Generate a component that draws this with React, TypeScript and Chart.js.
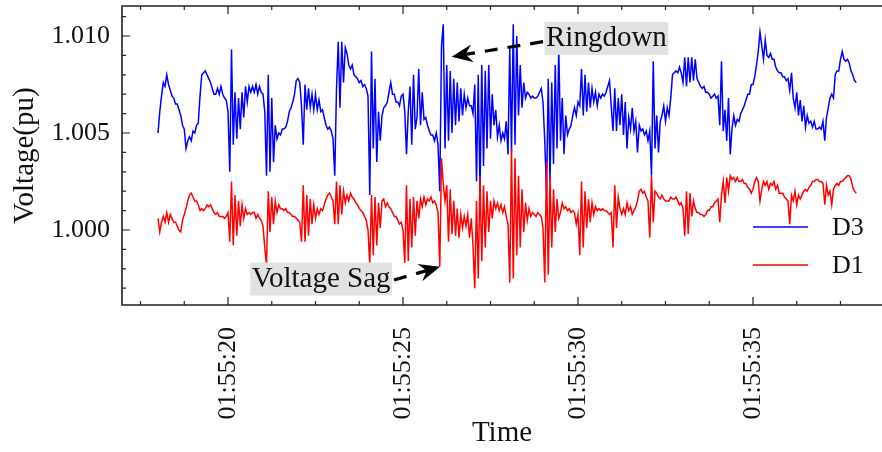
import React, { useEffect, useRef } from 'react';
import { Chart, registerables } from 'chart.js';

Chart.register(...registerables);

// ---------------- data ----------------
const seriesLabels = ['D3', 'D1'];
const seriesColors = ['#0000ff', '#ff0000'];

// sample times (seconds after 01:55:00), 20 samples per second
const startSecond = 18.0;
const sampleStep = 0.05;

const d3Values = [
  1.0050, 1.0061, 1.0069, 1.0076, 1.0074, 1.0080, 1.0075, 1.0072, 1.0069, 1.0068,
  1.0065, 1.0065, 1.0062, 1.0059, 1.0054, 1.0052, 1.0042, 1.0046, 1.0048, 1.0046,
  1.0051, 1.0050, 1.0054, 1.0055, 1.0069, 1.0080, 1.0081, 1.0082, 1.0080, 1.0078,
  1.0076, 1.0073, 1.0070, 1.0070, 1.0073, 1.0070, 1.0074, 1.0070, 1.0068, 1.0067,
  1.0061, 1.0030, 1.0093, 1.0044, 1.0071, 1.0047, 1.0068, 1.0052, 1.0071, 1.0058,
  1.0074, 1.0066, 1.0074, 1.0071, 1.0074, 1.0071, 1.0075, 1.0070, 1.0074, 1.0071,
  1.0070, 1.0061, 1.0028, 1.0080, 1.0030, 1.0068, 1.0035, 1.0054, 1.0047, 1.0050,
  1.0049, 1.0052, 1.0052, 1.0053, 1.0056, 1.0061, 1.0063, 1.0066, 1.0070, 1.0077,
  1.0078, 1.0076, 1.0064, 1.0044, 1.0075, 1.0062, 1.0073, 1.0063, 1.0070, 1.0062,
  1.0070, 1.0062, 1.0067, 1.0061, 1.0062, 1.0058, 1.0054, 1.0052, 1.0053, 1.0051,
  1.0047, 1.0028, 1.0073, 1.0097, 1.0063, 1.0097, 1.0076, 1.0094, 1.0091, 1.0085,
  1.0083, 1.0085, 1.0080, 1.0079, 1.0078, 1.0076, 1.0077, 1.0074, 1.0075, 1.0073,
  1.0069, 1.0018, 1.0092, 1.0042, 1.0078, 1.0035, 1.0061, 1.0046, 1.0059, 1.0063,
  1.0064, 1.0066, 1.0071, 1.0076, 1.0070, 1.0070, 1.0066, 1.0066, 1.0064, 1.0069,
  1.0070, 1.0061, 1.0039, 1.0061, 1.0074, 1.0044, 1.0080, 1.0052, 1.0058, 1.0083,
  1.0054, 1.0071, 1.0057, 1.0058, 1.0054, 1.0051, 1.0049, 1.0049, 1.0046, 1.0050,
  1.0044, 1.0020, 1.0095, 1.0106, 1.0042, 1.0085, 1.0046, 1.0082, 1.0050, 1.0078,
  1.0054, 1.0076, 1.0056, 1.0073, 1.0059, 1.0070, 1.0063, 1.0068, 1.0064, 1.0064,
  1.0060, 1.0075, 1.0025, 1.0080, 1.0018, 1.0085, 1.0033, 1.0082, 1.0042, 1.0085,
  1.0047, 1.0070, 1.0054, 1.0062, 1.0048, 1.0054, 1.0046, 1.0050, 1.0047, 1.0056,
  1.0039, 1.0094, 1.0040, 1.0106, 1.0044, 1.0100, 1.0059, 1.0085, 1.0063, 1.0076,
  1.0068, 1.0071, 1.0070, 1.0068, 1.0069, 1.0068, 1.0068, 1.0069, 1.0071, 1.0073,
  1.0066, 1.0046, 1.0020, 1.0078, 1.0025, 1.0076, 1.0034, 1.0085, 1.0042, 1.0094,
  1.0046, 1.0068, 1.0039, 1.0059, 1.0049, 1.0052, 1.0054, 1.0059, 1.0063, 1.0059,
  1.0066, 1.0064, 1.0083, 1.0059, 1.0080, 1.0061, 1.0076, 1.0063, 1.0073, 1.0066,
  1.0071, 1.0064, 1.0070, 1.0068, 1.0070, 1.0069, 1.0071, 1.0074, 1.0077, 1.0064,
  1.0051, 1.0073, 1.0051, 1.0068, 1.0054, 1.0070, 1.0049, 1.0066, 1.0042, 1.0058,
  1.0052, 1.0063, 1.0051, 1.0056, 1.0040, 1.0054, 1.0051, 1.0052, 1.0049, 1.0051,
  1.0046, 1.0051, 1.0028, 1.0087, 1.0042, 1.0059, 1.0040, 1.0056, 1.0059, 1.0064,
  1.0056, 1.0063, 1.0059, 1.0068, 1.0080, 1.0081, 1.0082, 1.0081, 1.0084, 1.0081,
  1.0076, 1.0089, 1.0074, 1.0089, 1.0076, 1.0089, 1.0077, 1.0088, 1.0078, 1.0076,
  1.0074, 1.0073, 1.0074, 1.0071, 1.0071, 1.0070, 1.0068, 1.0069, 1.0070, 1.0068,
  1.0069, 1.0054, 1.0087, 1.0051, 1.0062, 1.0046, 1.0068, 1.0039, 1.0052, 1.0059,
  1.0054, 1.0057, 1.0056, 1.0060, 1.0062, 1.0064, 1.0067, 1.0070, 1.0070, 1.0075,
  1.0075, 1.0079, 1.0085, 1.0092, 1.0102, 1.0095, 1.0088, 1.0098, 1.0090, 1.0089,
  1.0091, 1.0088, 1.0088, 1.0084, 1.0082, 1.0081, 1.0081, 1.0079, 1.0079, 1.0077,
  1.0078, 1.0072, 1.0081, 1.0068, 1.0063, 1.0071, 1.0059, 1.0067, 1.0056, 1.0064,
  1.0053, 1.0059, 1.0055, 1.0056, 1.0053, 1.0056, 1.0052, 1.0052, 1.0053, 1.0052,
  1.0056, 1.0046, 1.0058, 1.0063, 1.0068, 1.0070, 1.0068, 1.0080, 1.0082, 1.0082,
  1.0088, 1.0092, 1.0088, 1.0087, 1.0088, 1.0086, 1.0082, 1.0080, 1.0077, 1.0076,
];

const d1Values = [
  1.0006, 0.9999, 1.0004, 1.0007, 1.0004, 1.0009, 1.0004, 1.0008, 1.0006, 1.0004,
  1.0004, 1.0002, 1.0000, 0.9999, 1.0005, 1.0008, 1.0011, 1.0015, 1.0018, 1.0019,
  1.0017, 1.0015, 1.0015, 1.0013, 1.0010, 1.0011, 1.0010, 1.0011, 1.0013, 1.0012,
  1.0013, 1.0011, 1.0009, 1.0008, 1.0009, 1.0007, 1.0007, 1.0007, 1.0006, 1.0007,
  1.0009, 0.9994, 1.0025, 0.9992, 1.0018, 0.9997, 1.0015, 1.0002, 1.0013, 1.0006,
  1.0011, 1.0008, 1.0009, 1.0008, 1.0009, 1.0009, 1.0006, 1.0008, 1.0006, 1.0005,
  1.0002, 0.9991, 0.9982, 1.0020, 0.9999, 1.0017, 1.0003, 1.0015, 1.0009, 1.0013,
  1.0011, 1.0011, 1.0010, 1.0011, 1.0009, 1.0009, 1.0008, 1.0007, 1.0007, 1.0006,
  1.0005, 1.0004, 0.9994, 1.0023, 0.9994, 1.0018, 0.9997, 1.0016, 1.0003, 1.0013,
  1.0006, 1.0011, 1.0008, 1.0011, 1.0010, 1.0013, 1.0016, 1.0018, 1.0019, 1.0017,
  1.0015, 1.0003, 1.0025, 1.0003, 1.0023, 1.0008, 1.0020, 1.0014, 1.0018, 1.0015,
  1.0019, 1.0017, 1.0016, 1.0014, 1.0013, 1.0011, 1.0010, 1.0009, 1.0007, 1.0005,
  1.0000, 0.9982, 1.0018, 0.9987, 1.0017, 0.9992, 1.0014, 1.0001, 1.0015, 1.0016,
  1.0012, 1.0014, 1.0012, 1.0011, 1.0009, 1.0007, 1.0007, 1.0005, 1.0003, 1.0004,
  1.0000, 0.9983, 1.0023, 0.9984, 1.0016, 0.9991, 1.0017, 0.9997, 1.0015, 1.0006,
  1.0016, 1.0012, 1.0017, 1.0013, 1.0016, 1.0015, 1.0017, 1.0014, 1.0015, 1.0013,
  1.0009, 0.9981, 1.0037, 1.0024, 1.0015, 1.0023, 0.9994, 1.0021, 0.9998, 1.0015,
  0.9997, 1.0011, 0.9996, 1.0008, 1.0001, 1.0007, 1.0002, 1.0008, 0.9996, 1.0006,
  0.9992, 0.9970, 1.0015, 0.9975, 1.0028, 0.9984, 1.0023, 0.9991, 1.0020, 0.9999,
  1.0015, 1.0006, 1.0015, 1.0011, 1.0014, 1.0010, 1.0013, 1.0009, 1.0012, 1.0007,
  1.0003, 0.9973, 1.0042, 0.9975, 1.0037, 0.9987, 1.0028, 0.9991, 1.0021, 0.9999,
  1.0014, 1.0005, 1.0011, 1.0007, 1.0009, 1.0008, 1.0007, 1.0009, 1.0008, 1.0007,
  1.0001, 0.9973, 1.0035, 0.9977, 1.0028, 0.9991, 1.0021, 0.9999, 1.0016, 1.0006,
  1.0009, 1.0014, 1.0011, 1.0012, 1.0010, 1.0011, 1.0009, 1.0010, 1.0009, 1.0003,
  1.0008, 0.9987, 1.0025, 0.9991, 1.0020, 1.0001, 1.0016, 1.0004, 1.0014, 1.0008,
  1.0012, 1.0010, 1.0011, 1.0010, 1.0011, 1.0010, 1.0010, 1.0009, 1.0008, 1.0009,
  0.9991, 1.0023, 1.0001, 1.0017, 1.0011, 1.0008, 1.0011, 1.0008, 1.0014, 1.0010,
  1.0012, 1.0008, 1.0010, 1.0012, 1.0015, 1.0020, 1.0021, 1.0019, 1.0020, 1.0017,
  1.0015, 0.9996, 1.0028, 1.0004, 1.0020, 1.0019, 1.0017, 1.0016, 1.0018, 1.0016,
  1.0015, 1.0015, 1.0015, 1.0017, 1.0016, 1.0016, 1.0017, 1.0015, 1.0013, 1.0014,
  1.0011, 0.9997, 1.0020, 0.9998, 1.0019, 1.0007, 1.0015, 1.0011, 1.0009, 1.0009,
  1.0008, 1.0008, 1.0007, 1.0008, 1.0010, 1.0010, 1.0012, 1.0012, 1.0014, 1.0015,
  1.0016, 1.0004, 1.0018, 1.0025, 1.0014, 1.0027, 1.0020, 1.0028, 1.0026, 1.0027,
  1.0025, 1.0027, 1.0025, 1.0025, 1.0026, 1.0024, 1.0024, 1.0022, 1.0021, 1.0019,
  1.0021, 1.0025, 1.0027, 1.0025, 1.0015, 1.0021, 1.0025, 1.0023, 1.0025, 1.0021,
  1.0024, 1.0023, 1.0025, 1.0021, 1.0023, 1.0019, 1.0019, 1.0019, 1.0017, 1.0016,
  1.0015, 1.0003, 1.0018, 1.0015, 1.0020, 1.0013, 1.0018, 1.0016, 1.0018, 1.0020,
  1.0021, 1.0020, 1.0022, 1.0023, 1.0025, 1.0025, 1.0026, 1.0026, 1.0025, 1.0025,
  1.0024, 1.0013, 1.0023, 1.0018, 1.0020, 1.0013, 1.0021, 1.0023, 1.0024, 1.0023,
  1.0025, 1.0025, 1.0026, 1.0027, 1.0028, 1.0028, 1.0026, 1.0022, 1.0020, 1.0019,
];

const sampleTimes = d3Values.map((_, i) => Math.round((startSecond + i * sampleStep) * 100) / 100);

const xTickSeconds = [20, 25, 30, 35];
const xTickLabels = ['01:55:20', '01:55:25', '01:55:30', '01:55:35'];
const yTickValues = [1.0, 1.005, 1.01];
const yTickLabels = ['1.000', '1.005', '1.010'];

const annotationTexts = ['Ringdown', 'Voltage Sag'];
const annotationTextAt = [[29.086, 1.009876], [20.677, 0.997474]];
const annotationArrowFrom = [[29.0, 1.009706], [24.743, 0.997423]];
const annotationArrowTo = [[26.391, 1.008933], [26.057, 0.998108]];

// axis view range
const xRange = [16.971, 38.686];
const yRange = [0.996134, 1.011546];

// ---------------- styling ----------------
const FONT = '"Liberation Serif", "Times New Roman", serif';

const decorPlugin = {
  id: 'decor',
  afterDatasetsDraw(chart: any) {
    const { ctx, chartArea: a, scales } = chart;
    const xs = scales.x;
    const ys = scales.y;
    ctx.save();

    // minor/major ticks (inward)
    ctx.strokeStyle = '#222';
    ctx.lineWidth = 1.2;
    ctx.beginPath();
    const xMinor: number[] = [];
    for (let v = 16.25; v <= xRange[1]; v += 1.25) {
      if (!xTickSeconds.some((m) => Math.abs(m - v) < 1e-6)) xMinor.push(v);
    }
    xMinor.forEach((v) => {
      const px = xs.getPixelForValue(v);
      if (px < a.left || px > a.right) return;
      ctx.moveTo(px, a.bottom); ctx.lineTo(px, a.bottom - 4);
      ctx.moveTo(px, a.top); ctx.lineTo(px, a.top + 4);
    });
    xTickSeconds.forEach((v) => {
      const px = xs.getPixelForValue(v);
      ctx.moveTo(px, a.bottom); ctx.lineTo(px, a.bottom - 8);
      ctx.moveTo(px, a.top); ctx.lineTo(px, a.top + 8);
    });
    for (let k = 997; k <= 1011; k++) {
      const v = k / 1000;
      if (yTickValues.some((m) => Math.abs(m - v) < 1e-9)) continue;
      const py = ys.getPixelForValue(v);
      if (py < a.top || py > a.bottom) continue;
      ctx.moveTo(a.left, py); ctx.lineTo(a.left + 4, py);
    }
    yTickValues.forEach((v) => {
      const py = ys.getPixelForValue(v);
      ctx.moveTo(a.left, py); ctx.lineTo(a.left + 8, py);
    });
    ctx.stroke();

    // frame
    ctx.lineWidth = 1.6;
    ctx.beginPath();
    ctx.moveTo(a.right + 2, a.top);
    ctx.lineTo(a.left, a.top);
    ctx.lineTo(a.left, a.bottom);
    ctx.lineTo(a.right + 2, a.bottom);
    ctx.stroke();

    // legend (lower right, inside axes)
    const ds = chart.data.datasets;
    const legendRows = [a.bottom - 78, a.bottom - 40];
    ds.forEach((d: any, i: number) => {
      const y = legendRows[i];
      ctx.strokeStyle = d.borderColor;
      ctx.lineWidth = 1.6;
      ctx.beginPath();
      ctx.moveTo(a.left + 631, y);
      ctx.lineTo(a.left + 686, y);
      ctx.stroke();
      ctx.fillStyle = '#111';
      ctx.font = `26px ${FONT}`;
      ctx.textAlign = 'left';
      ctx.textBaseline = 'middle';
      ctx.fillText(d.label, a.left + 710, y + 1);
    });

    // annotations
    annotationTexts.forEach((text, i) => {
      const tx = xs.getPixelForValue(annotationTextAt[i][0]);
      const ty = ys.getPixelForValue(annotationTextAt[i][1]);
      ctx.font = `29px ${FONT}`;
      const w = ctx.measureText(text).width;
      ctx.fillStyle = '#e2e2e2';
      ctx.fillRect(tx - 1.5, ty - 16.5, w + 3, 33);
      ctx.fillStyle = '#111';
      ctx.textAlign = 'left';
      ctx.textBaseline = 'alphabetic';
      ctx.fillText(text, tx, ty + 8);

      const sx = xs.getPixelForValue(annotationArrowFrom[i][0]);
      const sy = ys.getPixelForValue(annotationArrowFrom[i][1]);
      const ex = xs.getPixelForValue(annotationArrowTo[i][0]);
      const ey = ys.getPixelForValue(annotationArrowTo[i][1]);
      const len = Math.hypot(ex - sx, ey - sy);
      const ux = (ex - sx) / len;
      const uy = (ey - sy) / len;
      const nx = -uy;
      const ny = ux;
      const L = 21;
      const W = 9;
      const N = 7;
      const notchX = ex - (L - N) * ux;
      const notchY = ey - (L - N) * uy;
      ctx.strokeStyle = '#000';
      ctx.lineWidth = 3.2;
      ctx.setLineDash([13, 10]);
      ctx.beginPath();
      ctx.moveTo(sx, sy);
      ctx.lineTo(notchX, notchY);
      ctx.stroke();
      ctx.setLineDash([]);
      ctx.fillStyle = '#000';
      ctx.beginPath();
      ctx.moveTo(ex, ey);
      ctx.lineTo(ex - L * ux + W * nx, ey - L * uy + W * ny);
      ctx.lineTo(notchX, notchY);
      ctx.lineTo(ex - L * ux - W * nx, ey - L * uy - W * ny);
      ctx.closePath();
      ctx.fill();
    });

    ctx.restore();
  },
};

export default function App() {
  const canvasRef = useRef<HTMLCanvasElement | null>(null);

  useEffect(() => {
    const canvas = canvasRef.current;
    if (!canvas) return;
    const seriesValues = [d3Values, d1Values];
    const chart = new Chart(canvas, {
      type: 'line',
      data: {
        datasets: seriesLabels.map((label, s) => ({
          label,
          data: sampleTimes.map((t, i) => ({ x: t, y: seriesValues[s][i] })),
          borderColor: seriesColors[s],
          backgroundColor: seriesColors[s],
          borderWidth: 1.5,
          pointRadius: 0,
          tension: 0,
          fill: false,
          order: s === 0 ? 1 : 0,
        })),
      },
      options: {
        responsive: false,
        animation: false,
        devicePixelRatio: 1,
        layout: { padding: { top: 6, right: 0, left: 0, bottom: 0 } },
        plugins: {
          legend: { display: false },
          tooltip: { enabled: false },
        },
        scales: {
          x: {
            type: 'linear',
            min: xRange[0],
            max: xRange[1],
            bounds: 'data',
            grid: { display: false, drawTicks: false },
            border: { display: false },
            afterBuildTicks: (s: any) => {
              s.ticks = xTickSeconds.map((v) => ({ value: v }));
            },
            afterFit: (s: any) => {
              s.height = 147;
              s.paddingLeft = 0;
              s.paddingRight = 0;
            },
            ticks: {
              autoSkip: false,
              maxRotation: 90,
              minRotation: 90,
              padding: 22,
              color: '#111',
              font: { family: FONT, size: 26 },
              callback: (v: any) => {
                const k = xTickSeconds.findIndex((m) => Math.abs(m - Number(v)) < 1e-6);
                return k >= 0 ? xTickLabels[k] : '';
              },
            },
            title: {
              display: true,
              text: 'Time',
              color: '#111',
              font: { family: FONT, size: 29, lineHeight: 1.2 },
              padding: { top: 0, bottom: 1 },
            },
          },
          y: {
            type: 'linear',
            min: yRange[0],
            max: yRange[1],
            bounds: 'data',
            grid: { display: false, drawTicks: false },
            border: { display: false },
            afterBuildTicks: (s: any) => {
              s.ticks = yTickValues.map((v) => ({ value: v }));
            },
            afterFit: (s: any) => {
              s.width = 122;
              s.paddingTop = 0;
              s.paddingBottom = 0;
            },
            ticks: {
              autoSkip: false,
              padding: 12,
              color: '#111',
              font: { family: FONT, size: 26 },
              callback: (v: any) => {
                const k = yTickValues.findIndex((m) => Math.abs(m - Number(v)) < 1e-9);
                return k >= 0 ? yTickLabels[k] : '';
              },
            },
            title: {
              display: true,
              text: 'Voltage(pu)',
              color: '#111',
              font: { family: FONT, size: 29, lineHeight: 1.2 },
              padding: { top: 8, bottom: 0 },
            },
          },
        },
      },
      plugins: [decorPlugin],
    });
    return () => chart.destroy();
  }, []);

  return (
    <div style={{ position: 'fixed', left: 0, top: 0, width: 882, height: 452, background: '#fff' }}>
      <canvas ref={canvasRef} width={882} height={452} style={{ display: 'block' }} />
    </div>
  );
}
